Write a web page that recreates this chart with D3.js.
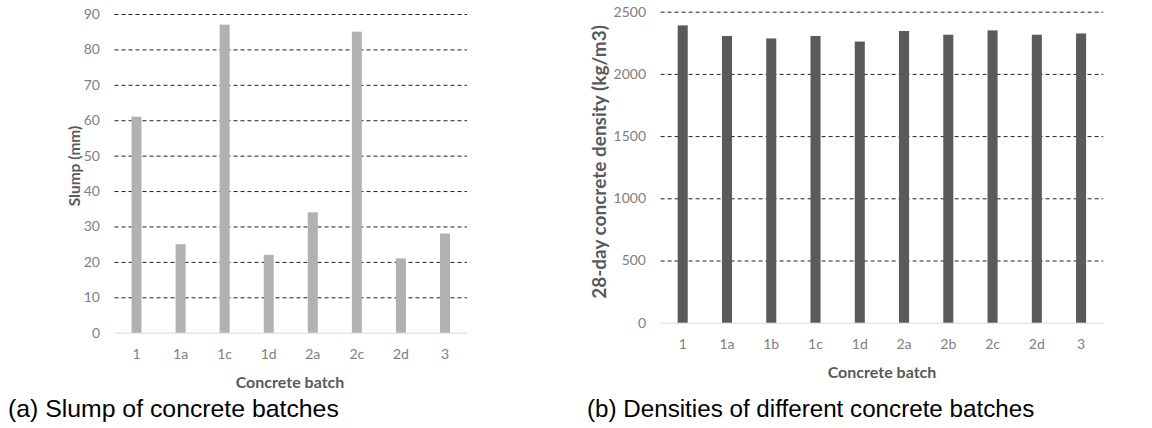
<!DOCTYPE html>
<html>
<head>
<meta charset="utf-8">
<script src="https://cdn.jsdelivr.net/npm/d3@7"></script>
<style>
html,body{margin:0;padding:0;background:#fff;}
svg{display:block;}
</style>
</head>
<body>
<svg id="chart" width="1152" height="428"></svg>
<script>
const slumpBatches = ["1","1a","1c","1d","2a","2c","2d","3"];
const slumpValues = [61,25,87,22,34,85,21,28];
const slumpTicks = [0,10,20,30,40,50,60,70,80,90];

const densityBatches = ["1","1a","1b","1c","1d","2a","2b","2c","2d","3"];
const densityValues = [2390,2305,2285,2305,2260,2345,2315,2350,2315,2325];
const densityTicks = [0,500,1000,1500,2000,2500];

const svg = d3.select("#chart");
const tickFont = "Lato, 'Open Sans', sans-serif";

function panel(cfg){
  const g = svg.append("g");
  const x = d3.scaleBand().domain(cfg.cats).range([cfg.x0, cfg.x1]).paddingInner(0.773).paddingOuter(0.386);
  const y = d3.scaleLinear().domain([0, cfg.max]).range([cfg.y0, cfg.y1]);
  g.selectAll("line.grid").data(cfg.ticks.filter(t=>t>0)).enter().append("line")
    .attr("x1", cfg.x0).attr("x2", cfg.x1)
    .attr("y1", d=>y(d)+0.5).attr("y2", d=>y(d)+0.5)
    .attr("stroke", "#222").attr("stroke-width", 1).attr("stroke-dasharray", "4,3");
  g.append("line").attr("x1", cfg.x0).attr("x2", cfg.x1)
    .attr("y1", y(0)+0.5).attr("y2", y(0)+0.5).attr("stroke", "#d9d9d9").attr("stroke-width", 1);
  g.selectAll("rect.bar").data(cfg.vals).enter().append("rect")
    .attr("x", (d,i)=>x(cfg.cats[i])).attr("width", x.bandwidth())
    .attr("y", d=>y(d)).attr("height", d=>y(0)-y(d))
    .attr("fill", cfg.color);
  const yAxis = d3.axisLeft(y).tickValues(cfg.ticks).tickFormat(d3.format("d")).tickSize(0).tickPadding(0);
  const ya = g.append("g").attr("transform", `translate(${cfg.ylabX},0)`).call(yAxis);
  ya.select(".domain").remove();
  ya.selectAll("text").attr("fill", "#808080").style("font-family", tickFont).style("font-size", "14px");
  const xAxis = d3.axisBottom(x).tickSize(0).tickPadding(0);
  const xa = g.append("g").attr("transform", `translate(0,${cfg.xlabY})`).call(xAxis);
  xa.select(".domain").remove();
  xa.selectAll("text").attr("fill", "#808080").style("font-family", tickFont).style("font-size", "14px");
  g.append("text").attr("x", cfg.xtX).attr("y", cfg.xtY).attr("text-anchor", "middle")
    .attr("fill", "#595959").style("font-family", tickFont).style("font-weight", "bold").style("font-size", cfg.xtSize)
    .text("Concrete batch");
  g.append("text").attr("transform", `translate(${cfg.ytX},${cfg.ytY}) rotate(-90)`).attr("text-anchor", "middle")
    .attr("fill", "#595959").style("font-family", tickFont).style("font-weight", "bold").style("font-size", cfg.ytSize)
    .text(cfg.ytitle);
  g.append("text").attr("x", cfg.capX).attr("y", 417)
    .attr("fill", "#000").style("font-family", "'Liberation Sans', Arial, sans-serif").style("font-size", cfg.capSize)
    .text(cfg.caption);
}

panel({
  cats: slumpBatches, vals: slumpValues, ticks: slumpTicks, max: 90,
  x0: 114.5, x1: 467, y0: 332.7, y1: 14,
  color: "#b1b1b1", ylabX: 100, xlabY: 349,
  xtX: 290, xtY: 388, xtSize: "16px", ytX: 80, ytY: 166, ytSize: "15.5px", ytitle: "Slump (mm)",
  capX: 8, capSize: "24.8px", caption: "(a) Slump of concrete batches"
});

panel({
  cats: densityBatches, vals: densityValues, ticks: densityTicks, max: 2500,
  x0: 660.6, x1: 1103.2, y0: 322.7, y1: 11.7,
  color: "#5a5a5a", ylabX: 646, xlabY: 339,
  xtX: 882, xtY: 378, xtSize: "16px", ytX: 606, ytY: 162, ytSize: "19px", ytitle: "28-day concrete density (kg/m3)",
  capX: 587, capSize: "24.2px", caption: "(b) Densities of different concrete batches"
});
</script>
</body>
</html>
